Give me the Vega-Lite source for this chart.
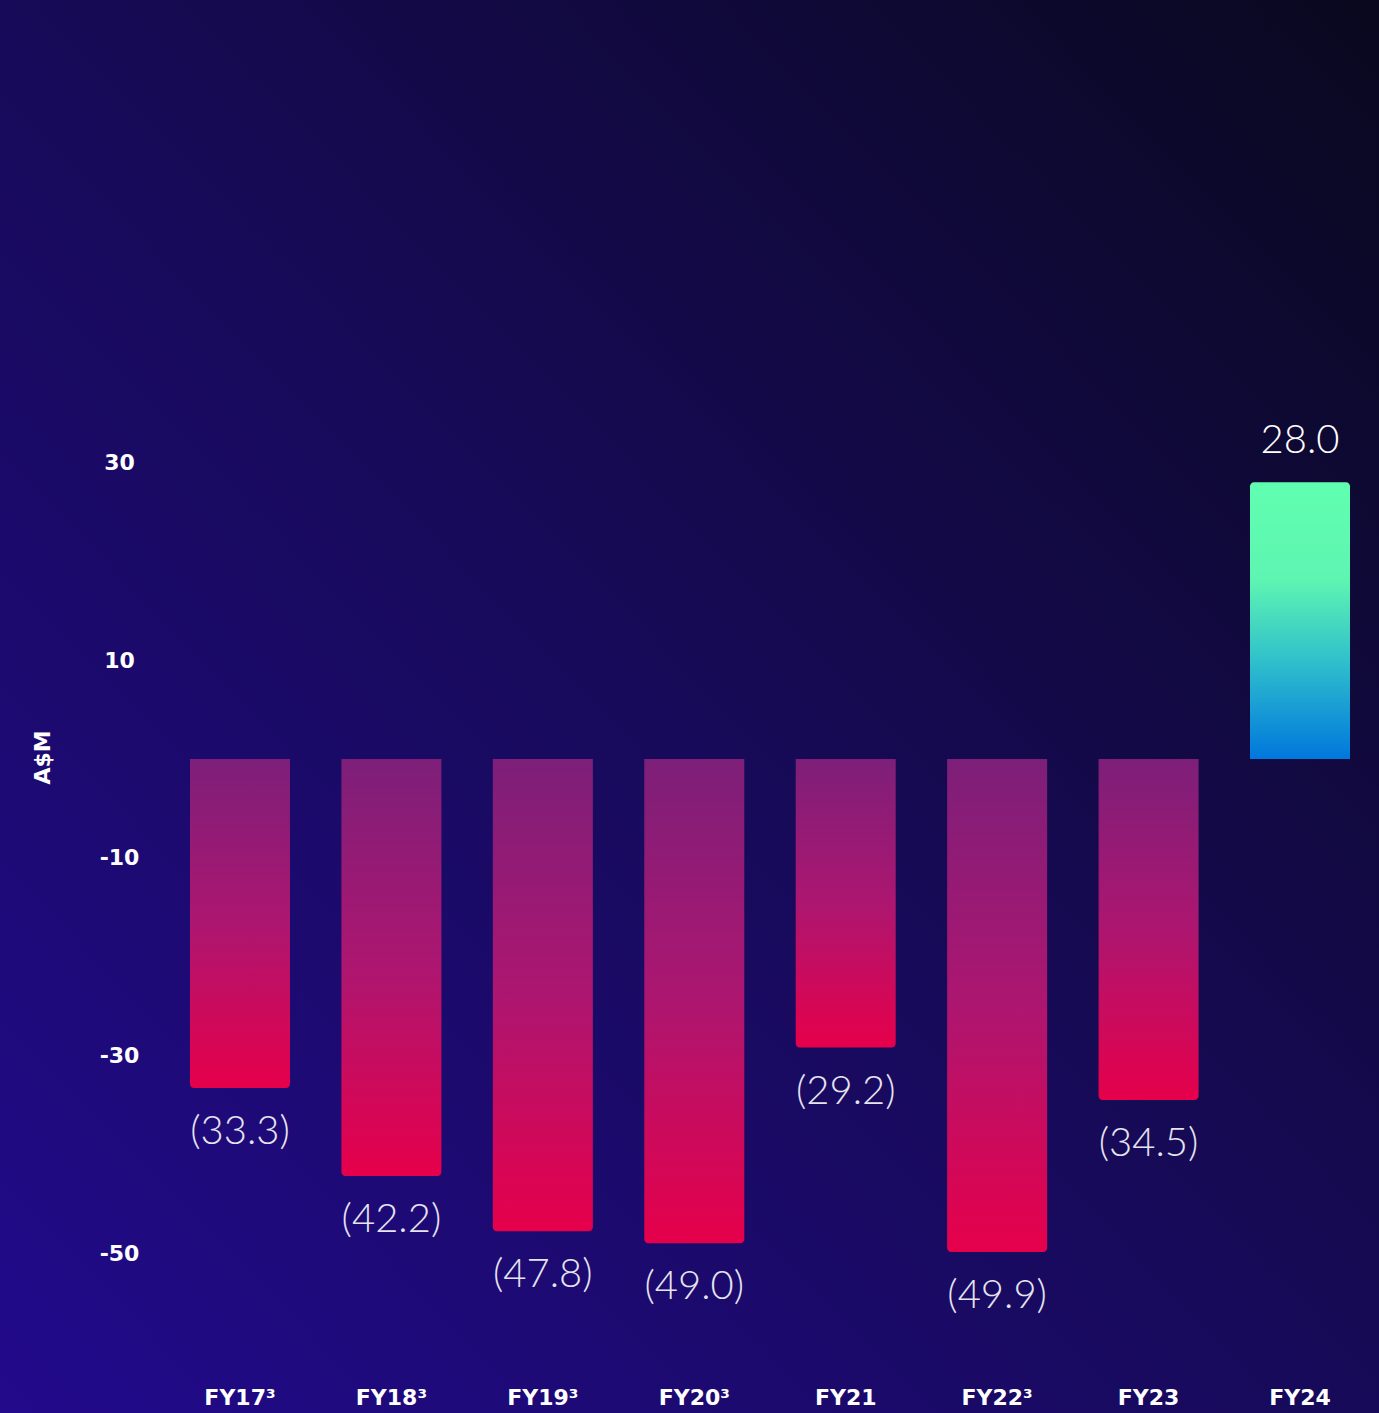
{
  "$schema": "https://vega.github.io/schema/vega-lite/v6.json",
  "width": 1379,
  "height": 1413,
  "padding": 0,
  "autosize": {"type": "none"},
  "background": "#150a50",
  "config": {
    "view": {
      "stroke": null,
      "fill": {
        "gradient": "linear",
        "x1": 0, "y1": 1, "x2": 1, "y2": 0,
        "stops": [
          {"offset": 0, "color": "#220a8c"},
          {"offset": 0.5, "color": "#170a58"},
          {"offset": 1, "color": "#09081e"}
        ]
      }
    }
  },
  "data": {
    "values": [
      {"year": "FY17³", "value": -33.3, "label": "(33.3)"},
      {"year": "FY18³", "value": -42.2, "label": "(42.2)"},
      {"year": "FY19³", "value": -47.8, "label": "(47.8)"},
      {"year": "FY20³", "value": -49.0, "label": "(49.0)"},
      {"year": "FY21", "value": -29.2, "label": "(29.2)"},
      {"year": "FY22³", "value": -49.9, "label": "(49.9)"},
      {"year": "FY23", "value": -34.5, "label": "(34.5)"},
      {"year": "FY24", "value": 28.0, "label": "28.0"}
    ]
  },
  "encoding": {
    "x": {
      "field": "year",
      "type": "nominal",
      "sort": null,
      "scale": {"paddingInner": 0.3396, "paddingOuter": 0.723, "align": 0.8676},
      "axis": {
        "title": null,
        "labelAngle": 0,
        "ticks": false,
        "domain": false,
        "offset": -16,
        "labelPadding": 0,
        "labelBaseline": "middle",
        "labelFont": "DejaVu Sans",
        "labelFontWeight": "bold",
        "labelFontSize": 22,
        "labelColor": "#ffffff"
      }
    },
    "y": {
      "field": "value",
      "type": "quantitative",
      "scale": {"domain": [-66.19, 76.82], "nice": false, "zero": false},
      "axis": {
        "title": "A$M",
        "values": [-50, -30, -10, 10, 30],
        "labelExpr": "datum.value < 0 ? '-' + abs(datum.value) : '' + datum.value",
        "grid": false,
        "ticks": false,
        "domain": false,
        "offset": -119,
        "labelPadding": 0,
        "labelAlign": "center",
        "labelBaseline": "middle",
        "labelFont": "DejaVu Sans",
        "labelFontWeight": "bold",
        "labelFontSize": 22,
        "labelColor": "#ffffff",
        "titleFont": "DejaVu Sans",
        "titleFontWeight": "bold",
        "titleFontSize": 22,
        "titleColor": "#ffffff",
        "titleAngle": -90,
        "titleAlign": "center",
        "titleBaseline": "middle",
        "titleX": -77,
        "titleY": 757
      }
    }
  },
  "layer": [
    {
      "transform": [{"filter": "datum.value < 0"}],
      "mark": {
        "type": "bar",
        "cornerRadiusBottomLeft": 4,
        "cornerRadiusBottomRight": 4,
        "fill": {
          "gradient": "linear",
          "x1": 0, "y1": 0, "x2": 0, "y2": 1,
          "stops": [
            {"offset": 0, "color": "#7d1f79"},
            {"offset": 0.5, "color": "#ad1670"},
            {"offset": 1, "color": "#e6004b"}
          ]
        }
      },
      "encoding": {"y2": {"datum": 0}}
    },
    {
      "transform": [{"filter": "datum.value > 0"}],
      "mark": {
        "type": "bar",
        "cornerRadiusTopLeft": 4,
        "cornerRadiusTopRight": 4,
        "fill": {
          "gradient": "linear",
          "x1": 0, "y1": 0, "x2": 0, "y2": 1,
          "stops": [
            {"offset": 0, "color": "#60ffb0"},
            {"offset": 0.35, "color": "#5ef5b2"},
            {"offset": 0.65, "color": "#2fbfcc"},
            {"offset": 1, "color": "#0077dd"}
          ]
        }
      },
      "encoding": {"y2": {"datum": 0}}
    },
    {
      "transform": [{"filter": "datum.value < 0"}],
      "mark": {
        "type": "text",
        "font": "Lato",
        "fontWeight": 300,
        "fontSize": 40,
        "color": "#e6e4f0",
        "baseline": "alphabetic",
        "align": "center",
        "dy": 56
      },
      "encoding": {"text": {"field": "label"}}
    },
    {
      "transform": [{"filter": "datum.value > 0"}],
      "mark": {
        "type": "text",
        "font": "Lato",
        "fontWeight": 300,
        "fontSize": 40,
        "color": "#ffffff",
        "baseline": "alphabetic",
        "align": "center",
        "dy": -29
      },
      "encoding": {"text": {"field": "label"}}
    }
  ]
}
